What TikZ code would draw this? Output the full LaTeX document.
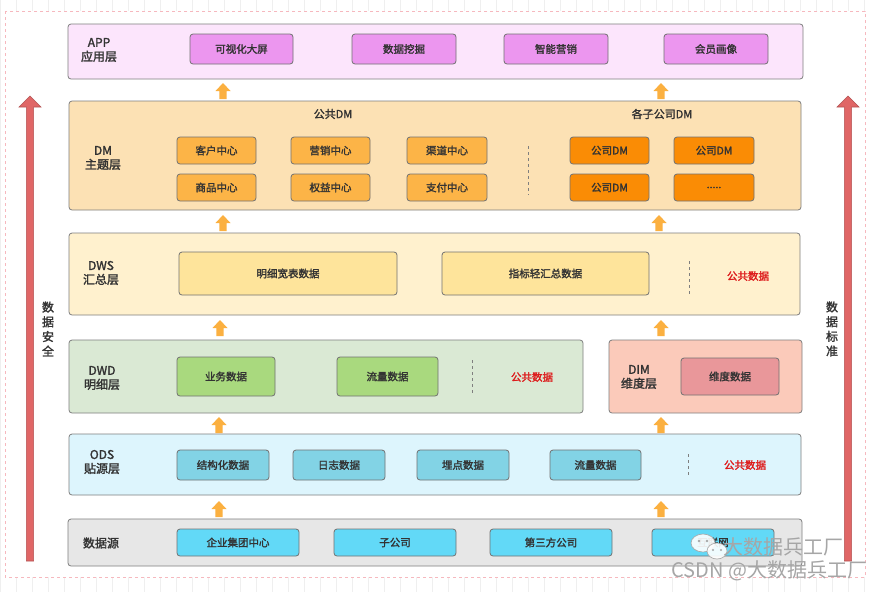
\documentclass[tikz,border=0pt]{standalone}
\usepackage{fontspec}
\setmainfont{Noto Sans CJK SC}
\newfontfamily\bcjk{Noto Sans CJK SC}[FakeBold=1.8]
\usetikzlibrary{shapes.geometric}
\definecolor{edge}{HTML}{7F7F7F}
\definecolor{txt}{HTML}{333333}
\definecolor{appL}{HTML}{FCE5FC}
\definecolor{appB}{HTML}{EC96EF}
\definecolor{dmL}{HTML}{FCE1B4}
\definecolor{dmB}{HTML}{FCB447}
\definecolor{dmC}{HTML}{FA8C05}
\definecolor{dwsL}{HTML}{FFF1CE}
\definecolor{dwsB}{HTML}{FEE49B}
\definecolor{dwdL}{HTML}{DAE9D4}
\definecolor{dwdB}{HTML}{A9D97E}
\definecolor{dimL}{HTML}{FBCABA}
\definecolor{dimB}{HTML}{E9979A}
\definecolor{odsL}{HTML}{DDF5FD}
\definecolor{odsB}{HTML}{82D3E5}
\definecolor{srcL}{HTML}{E7E7E7}
\definecolor{srcB}{HTML}{62D9F7}
\definecolor{orarr}{HTML}{FBB040}
\definecolor{redarr}{HTML}{E06666}
\definecolor{redtxt}{HTML}{DD1C1C}
\definecolor{pinkdash}{HTML}{F6B8BE}
\definecolor{gridc}{HTML}{EFEFEF}
\newcommand\bx[7]{\node[#1,anchor=north west,inner sep=0pt,outer sep=0pt,
  minimum width={#5-#3},minimum height={#6-#4}] (#2) at (#3,#4) {#7};}
\newcommand\orarrow[3]{\fill[orarr] (#1,#2) -- (#1+7.5,#2+8) -- (#1+3.7,#2+8) -- (#1+3.7,#3)
  -- (#1-3.7,#3) -- (#1-3.7,#2+8) -- (#1-7.5,#2+8) -- cycle;}
\newcommand\redarrow[3]{\filldraw[fill=redarr,draw=redarr!80!black,line width=0.6pt]
  (#1,#2) -- (#1+11,#2+11) -- (#1+3.6,#2+11) -- (#1+3.6,#3)
  -- (#1-3.6,#3) -- (#1-3.6,#2+11) -- (#1-11,#2+11) -- cycle;}
\tikzset{
  layer/.style={draw=edge,line width=0.8pt,rounded corners=3pt},
  boxst/.style={draw=edge!90!black,line width=0.8pt,rounded corners=3pt,text=txt,font=\fontsize{10.5}{12}\selectfont\bcjk},
  lbl/.style={text=txt,align=center,font=\fontsize{12}{14}\selectfont\bcjk},
  head/.style={text=txt,font=\fontsize{11}{13}\selectfont\bcjk},
  pub/.style={text=redtxt,font=\fontsize{10.5}{12}\selectfont\bcjk},
  sep/.style={draw=edge,dashed,line width=0.8pt},
  side/.style={text=txt,align=center,font=\fontsize{12}{14.7}\selectfont\bcjk},
  wm/.style={text=gray!70,font=\fontsize{20}{22}\selectfont},
}
\begin{document}
\begin{tikzpicture}[x=1pt,y=-1pt]
\useasboundingbox (0,0) rectangle (877,592);
% background grid and frame
\fill[white] (0,0) rectangle (877,592);
\draw[gridc,line width=0.5pt,step=16] (0,0) grid (877,592);
\fill[white] (5,11) rectangle (865,577);
\draw[pinkdash,dashed,line width=0.8pt] (5,11) rectangle (865,577);

% APP layer
\bx{layer,fill=appL}{app}{68}{24}{803}{79}{}
\node[lbl] (appl) at (99,50) {APP\\应用层};
\bx{boxst,fill=appB}{a1}{190}{34}{293}{64}{可视化大屏}
\bx{boxst,fill=appB}{a2}{352}{34}{456}{64}{数据挖掘}
\bx{boxst,fill=appB}{a3}{504}{34}{608}{64}{智能营销}
\bx{boxst,fill=appB}{a4}{664}{34}{768}{64}{会员画像}

% DM layer
\bx{layer,fill=dmL}{dm}{69}{101}{801}{210}{}
\node[lbl] (dml) at (103,158) {DM\\主题层};
\node[head] (pdm) at (333,114) {公共DM};
\node[head] (sdm) at (662,114) {各子公司DM};
\bx{boxst,fill=dmB}{d1}{177}{137}{256}{164}{客户中心}
\bx{boxst,fill=dmB}{d2}{291}{137}{370}{164}{营销中心}
\bx{boxst,fill=dmB}{d3}{407}{137}{487}{164}{渠道中心}
\bx{boxst,fill=dmB}{d4}{177}{174}{256}{201}{商品中心}
\bx{boxst,fill=dmB}{d5}{291}{174}{370}{201}{权益中心}
\bx{boxst,fill=dmB}{d6}{407}{174}{487}{201}{支付中心}
\draw[sep] (528,146) -- (528,195);
\bx{boxst,fill=dmC}{c1}{570}{137}{649}{164}{公司DM}
\bx{boxst,fill=dmC}{c2}{674}{137}{754}{164}{公司DM}
\bx{boxst,fill=dmC}{c3}{570}{174}{649}{201}{公司DM}
\bx{boxst,fill=dmC}{c4}{674}{174}{754}{201}{.....}

% DWS layer
\bx{layer,fill=dwsL}{dws}{69}{233}{800}{315}{}
\node[lbl] (dwsl) at (101,273) {DWS\\汇总层};
\bx{boxst,fill=dwsB}{w1}{179}{252}{397}{295}{明细宽表数据}
\bx{boxst,fill=dwsB}{w2}{442}{252}{649}{295}{指标轻汇总数据}
\draw[sep] (689,261) -- (689,294);
\node[pub] (wp) at (748,276) {公共数据};

% DWD layer
\bx{layer,fill=dwdL}{dwd}{69}{340}{583}{413}{}
\node[lbl] (dwdl) at (102,378) {DWD\\明细层};
\bx{boxst,fill=dwdB}{g1}{177}{357}{275}{396}{业务数据}
\bx{boxst,fill=dwdB}{g2}{337}{357}{438}{396}{流量数据}
\draw[sep] (472,360) -- (472,393);
\node[pub] (gp) at (532,377) {公共数据};

% DIM layer
\bx{layer,fill=dimL}{dim}{609}{340}{802}{413}{}
\node[lbl] (diml) at (639,377) {DIM\\维度层};
\bx{boxst,fill=dimB}{m1}{681}{358}{779}{395}{维度数据}

% ODS layer
\bx{layer,fill=odsL}{ods}{69}{434}{801}{495}{}
\node[lbl] (odsl) at (102,462) {ODS\\贴源层};
\bx{boxst,fill=odsB}{o1}{177}{450}{269}{480}{结构化数据}
\bx{boxst,fill=odsB}{o2}{293}{450}{385}{480}{日志数据}
\bx{boxst,fill=odsB}{o3}{417}{450}{509}{480}{埋点数据}
\bx{boxst,fill=odsB}{o4}{550}{450}{641}{480}{流量数据}
\draw[sep] (688,454) -- (688,477);
\node[pub] (op) at (745,465) {公共数据};

% data source layer
\bx{layer,fill=srcL}{src}{68}{519}{802}{566}{}
\node[lbl] (srcl) at (101,543) {数据源};
\bx{boxst,fill=srcB}{s1}{177}{529}{299}{556}{企业集团中心}
\bx{boxst,fill=srcB}{s2}{334}{529}{456}{556}{子公司}
\bx{boxst,fill=srcB}{s3}{490}{529}{612}{556}{第三方公司}
\bx{boxst,fill=srcB}{s4}{652}{529}{774}{556}{互联网}

% orange up arrows
\orarrow{223}{83}{99}
\orarrow{661}{83}{99}
\orarrow{223}{215}{231}
\orarrow{659}{215}{231}
\orarrow{220}{320}{336}
\orarrow{661}{320}{336}
\orarrow{219}{417}{433}
\orarrow{661}{417}{433}
\orarrow{219}{501}{517}
\orarrow{661}{501}{517}

% side red arrows
\redarrow{30}{96}{561}
\redarrow{848}{96}{561}
\node[side] (lsec) at (48,329) {数\\据\\安\\全};
\node[side] (rstd) at (832,329) {数\\据\\标\\准};

% watermark
\filldraw[fill=white,draw=gray!70,line width=0.7pt,opacity=0.9] (703,543) ellipse [x radius=12, y radius=9];
\filldraw[fill=white,draw=gray!70,line width=0.7pt,opacity=0.9] (717,551) ellipse [x radius=10, y radius=8];
\fill[gray!70] (699,541) circle (1.3) (707,541) circle (1.3) (713,550) circle (1.1) (721,550) circle (1.1);
\node[wm,anchor=west] (wm1) at (720,547) {大数据兵工厂};
\node[wm,anchor=west] (wm2) at (668,571) {CSDN @大数据兵工厂};
\end{tikzpicture}
\end{document}
